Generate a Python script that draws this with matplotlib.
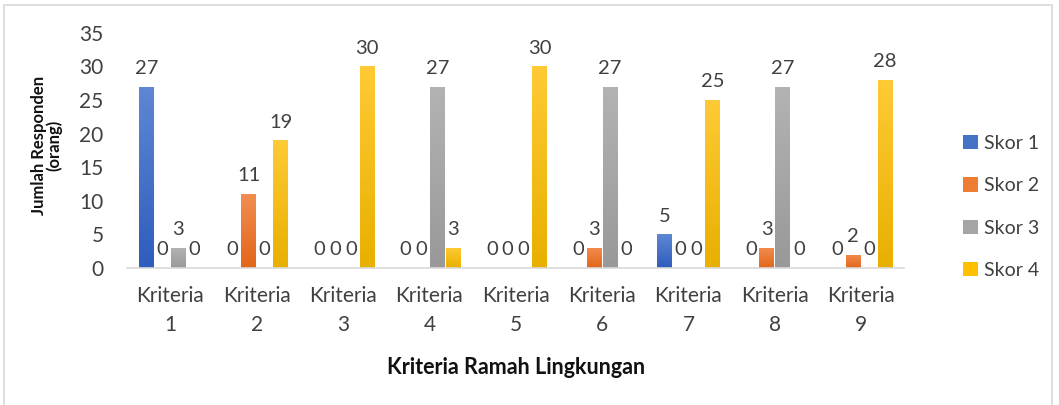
import matplotlib.pyplot as plt
import numpy as np
from matplotlib.colors import LinearSegmentedColormap
from matplotlib.patches import Rectangle

plt.rcParams.update({"font.family": ["Lato", "DejaVu Sans"]})

categories = ["Kriteria\n1", "Kriteria\n2", "Kriteria\n3", "Kriteria\n4", "Kriteria\n5",
              "Kriteria\n6", "Kriteria\n7", "Kriteria\n8", "Kriteria\n9"]
series_names = ["Skor 1", "Skor 2", "Skor 3", "Skor 4"]
skor1 = [27, 0, 0, 0, 0, 0, 5, 0, 0]
skor2 = [0, 11, 0, 0, 0, 3, 0, 3, 2]
skor3 = [3, 0, 0, 27, 0, 27, 0, 27, 0]
skor4 = [0, 19, 30, 3, 30, 0, 25, 0, 28]
colors = ["#4472C4", "#ED7D31", "#A5A5A5", "#FFC000"]
# light (top) / dark (bottom) ends of the bar gradients
grad = [("#5E87D4", "#2F5DBD"), ("#F28D50", "#E2661A"), ("#B3B3B3", "#999999"), ("#FFCA35", "#E8B000")]

fig = plt.figure(figsize=(10.59, 4.05), dpi=100)
ax = fig.add_axes([0.12, 0.338, 0.734, 0.581])
fig.patches.append(Rectangle((0.004, -0.02), 0.989, 1.008, transform=fig.transFigure,
                             fill=False, ec="#D9D9D9", lw=1.2))

x = np.arange(len(categories))
w = 0.185
for i, (vals, name, c, g) in enumerate(zip([skor1, skor2, skor3, skor4], series_names, colors, grad)):
    bars = ax.bar(x + (i - 1.5) * w, vals, w * 0.93, color=c, label=name)
    cmap = LinearSegmentedColormap.from_list(name, [g[1], g[0]])
    for b in bars:
        h = b.get_height()
        if h <= 0:
            continue
        bx, bw = b.get_x(), b.get_width()
        im = ax.imshow(np.linspace(0, 1, 64).reshape(-1, 1), cmap=cmap, origin="lower",
                       extent=[bx, bx + bw, 0, h], aspect="auto", zorder=2)
        im.set_clip_path(b)
    ax.bar_label(bars, padding=7, fontsize=14.5, color="#404040")

ax.set_xlim(-0.5, len(categories) - 0.5)
ax.set_ylim(0, 35)
ax.set_yticks(range(0, 36, 5))
ax.set_xticks(x)
ax.set_xticklabels(categories, fontsize=15, color="#404040", linespacing=1.55)
ax.tick_params(axis="y", labelsize=15, labelcolor="#404040", length=0, pad=17)
ax.tick_params(axis="x", length=0, pad=13)
for s in ["top", "right", "left"]:
    ax.spines[s].set_visible(False)
ax.spines["bottom"].set_color("#D9D9D9")
ax.spines["bottom"].set_linewidth(1.2)

ax.set_ylabel("Jumlah Responden\n(orang)", fontsize=12, fontweight="bold", color="#111111",
              linespacing=0.95)
ax.yaxis.set_label_coords(-0.083, 0.52)
ax.set_xlabel("Kriteria Ramah Lingkungan", fontsize=15.5, fontweight="bold", color="#111111",
              labelpad=16)

ax.legend(loc="center left", bbox_to_anchor=(0.893, 0.489), bbox_transform=fig.transFigure,
          frameon=False, fontsize=14, labelcolor="#404040", handlelength=0.75, handleheight=0.75,
          handletextpad=0.3, labelspacing=1.3)

fig.savefig("out.png", dpi=100)
